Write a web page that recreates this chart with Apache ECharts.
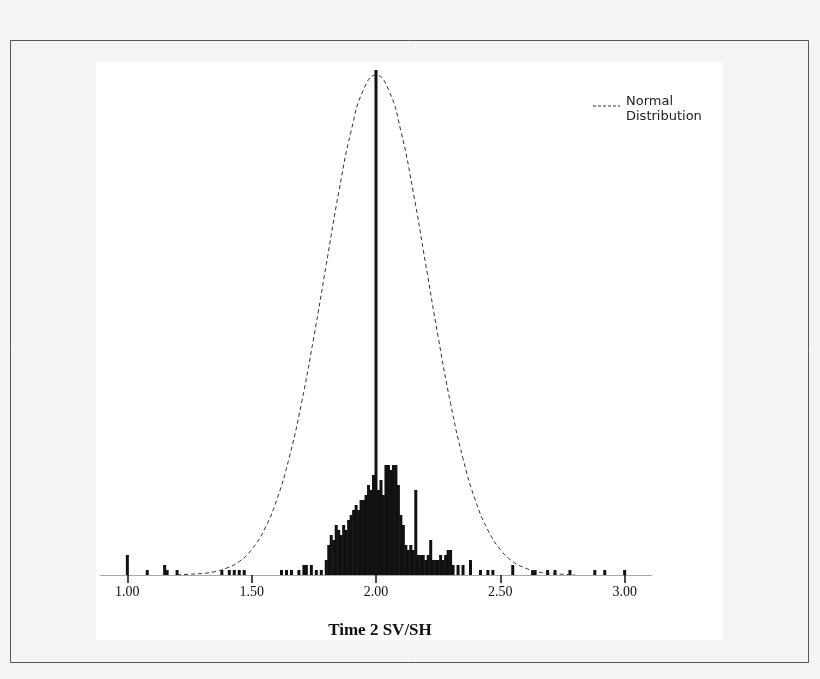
<!DOCTYPE html>
<html><head><meta charset="utf-8">
<script src="https://cdn.jsdelivr.net/npm/echarts@6/dist/echarts.min.js"></script>
<style>html,body{margin:0;padding:0;background:#f4f4f4}#c{width:820px;height:679px}</style>
</head><body><div id="c"></div>
<script>
// dot-plot bins (value, number of dots)
const binValues = [1.00,1.08,1.15,1.16,1.20,1.38,1.41,1.43,1.45,1.47,1.62,1.64,1.66,1.69,1.71,1.72,1.74,1.76,1.78,1.80,1.81,1.82,1.83,1.84,1.85,1.86,1.87,1.88,1.89,1.90,1.91,1.92,1.93,1.94,1.95,1.96,1.97,1.98,1.99,2.00,2.01,2.02,2.03,2.04,2.05,2.06,2.07,2.08,2.09,2.10,2.11,2.12,2.13,2.14,2.15,2.16,2.17,2.18,2.19,2.20,2.21,2.22,2.23,2.24,2.25,2.26,2.27,2.28,2.29,2.30,2.31,2.33,2.35,2.38,2.42,2.45,2.47,2.55,2.63,2.64,2.69,2.72,2.78,2.88,2.92,3.00];
const binCounts = [4,1,2,1,1,1,1,1,1,1,1,1,1,1,2,2,2,1,1,3,6,8,7,10,9,8,10,9,11,12,13,14,13,15,15,16,18,17,20,101,17,19,16,22,22,21,22,22,18,12,10,6,5,6,5,17,4,4,4,3,4,7,3,3,3,4,3,4,5,5,2,2,2,3,1,1,1,2,1,1,1,1,1,1,1,1];
// normal curve
const curveX = [1.20,1.25,1.30,1.35,1.40,1.45,1.50,1.55,1.60,1.65,1.70,1.75,1.80,1.85,1.90,1.95,2.00,2.05,2.10,2.15,2.20,2.25,2.30,2.35,2.40,2.45,2.50,2.55,2.60,2.65,2.70,2.75,2.80];
const curveY = [0.05,0.15,0.3,0.65,1.4,2.7,5.1,9.0,14.9,23.3,34.3,47.6,62.1,76.5,88.8,97.1,100,97.1,88.8,76.5,62.1,47.6,34.3,23.3,14.9,9.0,5.1,2.7,1.4,0.65,0.3,0.15,0.05];
const tickValues = [1.0,1.5,2.0,2.5,3.0];
const legendText = 'Normal\nDistribution';

const chart = echarts.init(document.getElementById('c'));
chart.setOption({
  animation:false,
  backgroundColor:'#f4f4f4',
  graphic:[
    {type:'rect',shape:{x:10.5,y:40.5,width:798,height:622},style:{fill:'#f4f4f4',stroke:'#555',lineWidth:1},z:-10},
    {type:'rect',shape:{x:96,y:62,width:627,height:578},style:{fill:'#fff'},z:-9},
    {type:'text',x:380,y:622,style:{text:'Time 2 SV/SH',font:'bold 17px "Liberation Serif", serif',fill:'#111',textAlign:'center'}},
    {type:'line',shape:{x1:593,y1:106,x2:620,y2:106},style:{stroke:'#333',lineWidth:1,lineDash:[3,2]}},
    {type:'text',x:626,y:94,style:{text:legendText,font:'13px "DejaVu Sans", sans-serif',fill:'#222',lineHeight:15}}
  ],
  grid:{left:100,right:168,top:70,bottom:104},
  xAxis:{type:'value',min:0.89,max:3.11,
    axisLine:{lineStyle:{color:'#aaa'}},
    axisTick:{show:true,customValues:tickValues,length:8,lineStyle:{color:'#111',width:1.5}},
    axisLabel:{customValues:tickValues,formatter:v=>v.toFixed(2),fontFamily:'Liberation Serif, serif',fontSize:14,color:'#111',margin:10},
    splitLine:{show:false}},
  yAxis:{type:'value',min:0,max:101,show:false},
  series:[
    {type:'bar',data:binValues.map((v,i)=>[v,binCounts[i]]),barWidth:3,itemStyle:{color:'#111'},silent:true},
    {type:'line',name:'Normal Distribution',data:curveX.map((v,i)=>[v,curveY[i]]),smooth:true,showSymbol:false,
      lineStyle:{color:'#333',width:1,type:[4,3]},itemStyle:{color:'#333'}}
  ]
});
</script></body></html>
